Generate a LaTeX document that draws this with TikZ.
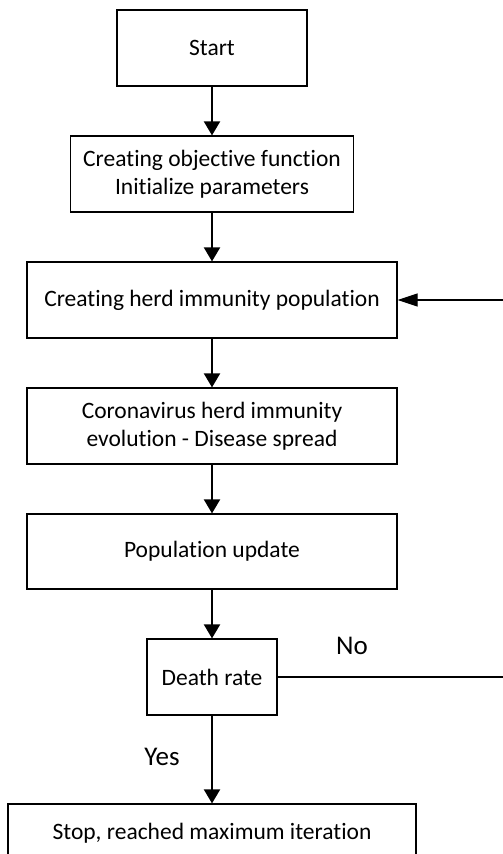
\documentclass[tikz,border=0pt]{standalone}
\usepackage{fontspec}
\setmainfont{Carlito}[Ligatures=CommonOff]
\usetikzlibrary{arrows.meta}
\begin{document}
\begin{tikzpicture}[x=1pt,y=-1pt,
  box/.style={draw=black, line width=1.2pt, inner sep=0pt, align=center,
    font=\fontsize{23.5}{28}\selectfont},
  flow/.style={line width=2pt, -{Triangle[length=14pt,width=16pt]}},
  back/.style={line width=1.2pt, -{Triangle[length=20pt,width=13pt]}},
  lbl/.style={inner sep=0pt, font=\fontsize{27}{30}\selectfont}]
\useasboundingbox (0,0) rectangle (503,854);
\node[box, minimum width=190pt, minimum height=76pt] (start) at (212,48) {Start};
\node[box, minimum width=283pt, minimum height=76pt] (init) at (212,174)
  {Creating objective function\\Initialize parameters};
\node[box, minimum width=370pt, minimum height=76pt] (herd) at (212,300)
  {Creating herd immunity population};
\node[box, minimum width=370pt, minimum height=76pt] (corona) at (212,426)
  {Coronavirus herd immunity\\evolution - Disease spread};
\node[box, minimum width=370pt, minimum height=75pt] (update) at (212,551.5)
  {Population update};
\node[box, minimum width=130pt, minimum height=76pt] (death) at (212,677)
  {Death rate};
\node[box, minimum width=408pt, minimum height=58pt] (stop) at (212,833)
  {Stop, reached maximum iteration};
\coordinate (fbA) at (505.5,677);
\coordinate (fbB) at (505.5,300);
\draw[flow] (start) -- (init);
\draw[flow] (init) -- (herd);
\draw[flow] (herd) -- (corona);
\draw[flow] (corona) -- (update);
\draw[flow] (update) -- (death);
\draw[flow] (death) -- (stop);
\draw[back] (death.east) -- (fbA) -- (fbB) -- (herd.east);
\node[lbl] (no) at (352,646) {No};
\node[lbl] (yes) at (162,757) {Yes};
\end{tikzpicture}
\end{document}
